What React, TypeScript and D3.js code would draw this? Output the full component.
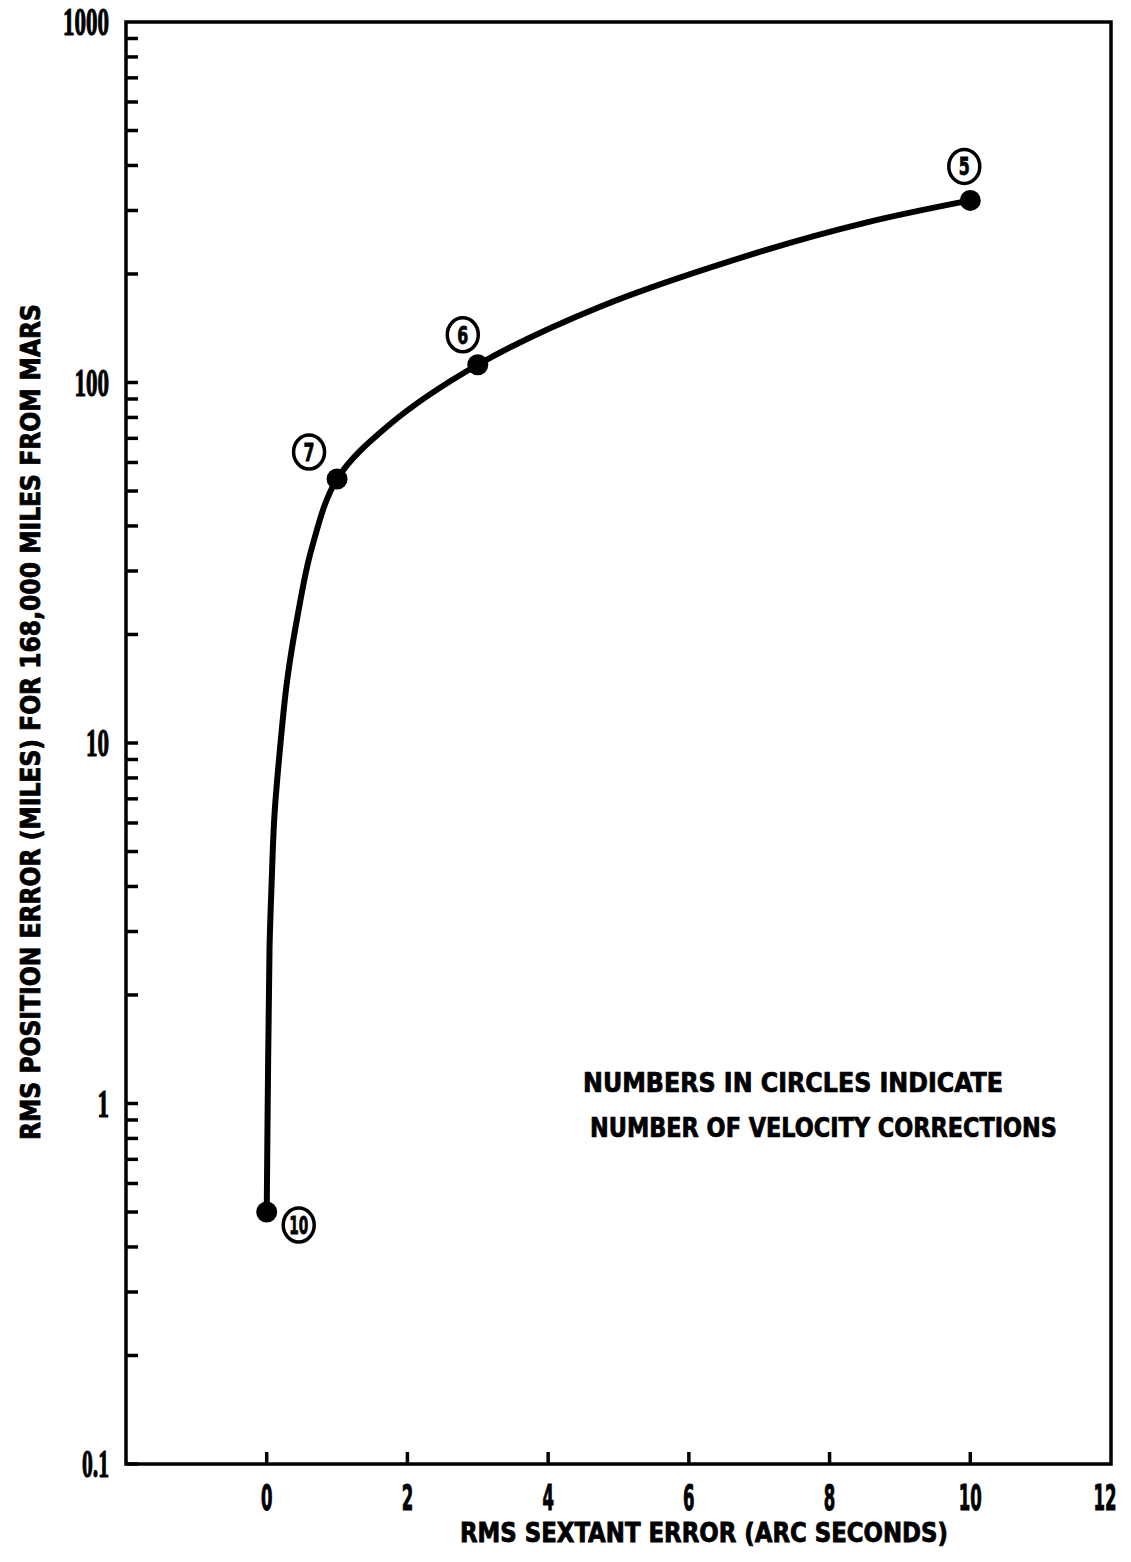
import React, { useEffect, useRef } from "react";
import * as d3 from "d3";

// Measured points (number of velocity corrections)
const pointX = [0, 1, 3, 10];
const pointY = [0.5, 54, 112, 320];
const pointLabels = ["10", "7", "6", "5"];

// Curve traced through the points
const curveX = [0, 0.02, 0.04, 0.07, 0.11, 0.19, 0.29, 0.44, 0.64, 1, 1.73, 3, 4.73, 7.03, 8.56, 10];
const curveY = [0.5, 1.3, 2.7, 4.1, 6.3, 9.7, 14.9, 22.6, 34.7, 54, 76, 112, 162, 231, 279, 320];

const xTicks = [0, 2, 4, 6, 8, 10, 12];
const yMajorTicks = [0.1, 1, 10, 100, 1000];
const yTickLabels = ["0.1", "1", "10", "100", "1000"];

const xTitle = "RMS SEXTANT ERROR  (ARC SECONDS)";
const yTitle = "RMS POSITION ERROR  (MILES) FOR 168,000 MILES FROM MARS";
const noteLines = ["NUMBERS IN CIRCLES INDICATE", "NUMBER OF VELOCITY CORRECTIONS"];

const W = 1131;
const H = 1562;
const L = 126, R = 1111, T = 22, B = 1464;

const SANS = "'Liberation Sans Narrow', 'DejaVu Sans Condensed', 'Roboto', sans-serif";
const SERIF = "'Liberation Serif', 'DejaVu Serif', serif";

// label offsets for circled numbers relative to their dots (pixels)
const labelOffsets: [number, number][] = [[32, 13], [-28, -27], [-15, -30], [-6, -34]];

export default function App() {
  const ref = useRef<SVGSVGElement>(null);

  useEffect(() => {
    document.body.style.margin = "0";
    const svg = d3.select(ref.current);
    svg.selectAll("*").remove();

    const x = d3.scaleLinear().domain([-2, 12]).range([L, R]);
    const y = d3.scaleLog().domain([0.1, 1000]).range([B, T]);

    svg.append("rect").attr("width", W).attr("height", H).attr("fill", "#fff");

    // frame
    svg.append("rect")
      .attr("x", L).attr("y", T).attr("width", R - L).attr("height", B - T)
      .attr("fill", "none").attr("stroke", "#000").attr("stroke-width", 3.5);

    // y ticks (log, inward)
    const yMinor: number[] = [];
    for (let e = -1; e < 3; e++) {
      for (let k = 1; k <= 9; k++) yMinor.push(k * Math.pow(10, e));
    }
    svg.append("g").selectAll("line").data(yMinor).join("line")
      .attr("x1", L).attr("x2", L + 12)
      .attr("y1", (d) => y(d)).attr("y2", (d) => y(d))
      .attr("stroke", "#000").attr("stroke-width", 3.5);

    // y tick labels
    svg.append("g").selectAll("text").data(yMajorTicks).join("text")
      .attr("x", 109).attr("y", (d) => y(d) + 13)
      .attr("text-anchor", "end")
      .attr("font-family", SERIF).attr("font-weight", "bold").attr("font-size", 40)
      .attr("stroke", "#000").attr("stroke-width", 1.2)
      .attr("textLength", (d, i) => yTickLabels[i].replace(".", "").length * 11.5 + (yTickLabels[i].includes(".") ? 4 : 0))
      .attr("lengthAdjust", "spacingAndGlyphs")
      .text((d, i) => yTickLabels[i]);

    // x ticks (inward)
    svg.append("g").selectAll("line").data(xTicks.filter((d) => d < 12)).join("line")
      .attr("x1", (d) => x(d)).attr("x2", (d) => x(d))
      .attr("y1", B).attr("y2", B - 12)
      .attr("stroke", "#000").attr("stroke-width", 3.5);

    svg.append("g").selectAll("text").data(xTicks).join("text")
      .attr("x", (d) => x(d) - (d === 12 ? 6 : 0)).attr("y", 1510)
      .attr("text-anchor", "middle")
      .attr("font-family", SANS).attr("font-weight", "bold").attr("font-size", 35)
      .attr("stroke", "#000").attr("stroke-width", 1)
      .attr("textLength", (d) => String(d).length * 11.5)
      .attr("lengthAdjust", "spacingAndGlyphs")
      .text((d) => String(d));

    // axis titles
    svg.append("text")
      .attr("x", 704).attr("y", 1542)
      .attr("text-anchor", "middle")
      .attr("font-family", SANS).attr("font-weight", "bold").attr("font-size", 27)
      .attr("stroke", "#000").attr("stroke-width", 0.8)
      .attr("textLength", 488).attr("lengthAdjust", "spacingAndGlyphs")
      .text(xTitle);

    svg.append("text")
      .attr("transform", "translate(40,722) rotate(-90)")
      .attr("text-anchor", "middle")
      .attr("font-family", SANS).attr("font-weight", "bold").attr("font-size", 27)
      .attr("stroke", "#000").attr("stroke-width", 0.8)
      .attr("textLength", 836).attr("lengthAdjust", "spacingAndGlyphs")
      .text(yTitle);

    // note
    const noteX = [583, 590];
    const noteY = [1092, 1137];
    const noteLen = [420, 467];
    noteLines.forEach((t, i) => {
      svg.append("text")
        .attr("x", noteX[i]).attr("y", noteY[i])
        .attr("font-family", SANS).attr("font-weight", "bold").attr("font-size", 26)
        .attr("stroke", "#000").attr("stroke-width", 0.7)
        .attr("textLength", noteLen[i]).attr("lengthAdjust", "spacingAndGlyphs")
        .text(t);
    });

    // curve
    const pts = curveX.map((cx, i) => [x(cx), y(curveY[i])] as [number, number]);
    const line = d3.line<[number, number]>().curve(d3.curveCatmullRom.alpha(0.5));
    svg.append("path")
      .attr("d", line(pts))
      .attr("fill", "none").attr("stroke", "#000").attr("stroke-width", 6)
      .attr("stroke-linecap", "round").attr("stroke-linejoin", "round");

    // dots
    svg.append("g").selectAll("circle").data(pointX).join("circle")
      .attr("cx", (d) => x(d)).attr("cy", (d, i) => y(pointY[i]))
      .attr("r", 10.5).attr("fill", "#000");

    // circled labels
    const lab = svg.append("g");
    pointX.forEach((px, i) => {
      const cx = x(px) + labelOffsets[i][0];
      const cy = y(pointY[i]) + labelOffsets[i][1];
      lab.append("ellipse")
        .attr("cx", cx).attr("cy", cy).attr("rx", 15.5).attr("ry", 17)
        .attr("fill", "#fff").attr("stroke", "#000").attr("stroke-width", 3.5);
      lab.append("text")
        .attr("x", cx).attr("y", cy + 9)
        .attr("text-anchor", "middle")
        .attr("font-family", SANS).attr("font-weight", "bold").attr("font-size", 25)
        .attr("stroke", "#000").attr("stroke-width", 0.8)
        .attr("textLength", pointLabels[i].length > 1 ? 19 : 11)
        .attr("lengthAdjust", "spacingAndGlyphs")
        .text(pointLabels[i]);
    });
  }, []);

  return <svg ref={ref} width={W} height={H} style={{ display: "block" }} />;
}
